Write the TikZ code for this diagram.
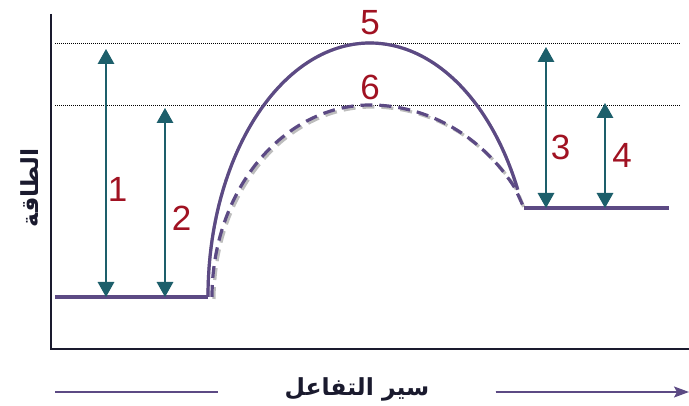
\documentclass[tikz,border=0pt]{standalone}
\usepackage{fontspec}
\setmainfont{Liberation Sans}
\newfontfamily\arabicfont[Script=Arabic]{DejaVu Sans}
\TeXXeTstate=1
\usetikzlibrary{arrows.meta,calc}
\definecolor{ink}{HTML}{1A1A2E}
\definecolor{curve}{HTML}{5C4A84}
\definecolor{dimc}{HTML}{1D5F6B}
\definecolor{numred}{HTML}{A01222}
\definecolor{halo}{HTML}{BDBDBD}

\begin{document}
\begin{tikzpicture}[x=1pt,y=1pt,
  lvl/.style={line width=3.2pt,draw=curve},
  shd/.style={line width=3.2pt,draw=halo,shift={(2,-2)}},
  ref/.style={line width=0.8pt,dash pattern=on 1pt off 1pt},
  dimarr/.style={line width=1.5pt,draw=dimc,fill=dimc,{Triangle[width=16.5pt,length=15pt]}-{Triangle[width=16.5pt,length=15pt]}},
  num/.style={text=numred,inner sep=0pt,font=\fontsize{35}{38}\selectfont},
  lab/.style={text=ink,font=\arabicfont\bfseries\fontsize{23.5}{27}\selectfont}]
\useasboundingbox (0,0) rectangle (689,406);
% axes
\draw[line width=1.3pt,draw=ink] (51,392) -- (51,57) -- (689,57);
% reference levels
\coordinate (t0) at (55,363);
\coordinate (t1) at (680,363);
\coordinate (m0) at (55,301);
\coordinate (m1) at (680,301);
\draw[ref] (t0) -- (t1);
\draw[ref] (m0) -- (m1);
% levels and paths
\coordinate (r0) at (55,109);
\coordinate (r1) at (208,109);
\coordinate (p0) at (524,198);
\coordinate (p1) at (669,198);
\draw[shd] (r0) -- (r1);
\draw[shd] (p0) -- (p1);
\draw[shd] (r1) arc[start angle=180,end angle=90,x radius=162,y radius=254]
  arc[start angle=90,end angle=25,x radius=163,y radius=254];
\draw[shd,dash pattern=on 12pt off 7pt] (212,109) arc[start angle=180,end angle=90,x radius=158,y radius=192]
  arc[start angle=90,end angle=34.5,x radius=176,y radius=192] -- (p0);
\draw[lvl] (r0) -- (r1);
\draw[lvl] (p0) -- (p1);
\draw[lvl] (r1) arc[start angle=180,end angle=90,x radius=162,y radius=254]
  arc[start angle=90,end angle=25,x radius=163,y radius=254];
\draw[lvl,dash pattern=on 12pt off 7pt] (212,109) arc[start angle=180,end angle=90,x radius=158,y radius=192]
  arc[start angle=90,end angle=34.5,x radius=176,y radius=192] -- (p0);
% energy arrows
\coordinate (a1) at (106,109);
\coordinate (b1) at (106,357);
\coordinate (a2) at (165,109);
\coordinate (b2) at (165,298);
\coordinate (a3) at (546,198);
\coordinate (b3) at (546,359);
\coordinate (a4) at (605,198);
\coordinate (b4) at (605,303);
\draw[dimarr] (a1) -- (b1);
\draw[dimarr] (a2) -- (b2);
\draw[dimarr] (a3) -- (b3);
\draw[dimarr] (a4) -- (b4);
\node[num] (n1) at (117.5,217) {1};
\node[num] (n2) at (181.5,188) {2};
\node[num] (n3) at (560.5,259) {3};
\node[num] (n4) at (622,251) {4};
\node[num] (n5) at (370,383) {5};
\node[num] (n6) at (370,319) {6};
% axis labels
\node[lab,rotate=90] (yl) at (30,218) {\beginR الطاقة\endR};
\node[lab,inner xsep=66pt] (xl) at (357,17) {\beginR سير التفاعل\endR};
\coordinate (xs) at (55,14);
\coordinate (xe) at (689,14);
\draw[line width=1.4pt,draw=curve] (xs) -- (xs -| xl.west);
\draw[line width=1.4pt,draw=curve,fill=curve,-{Stealth[width=11pt,length=15pt,inset=3pt]}] (xe -| xl.east) -- (xe);
\end{tikzpicture}
\end{document}
